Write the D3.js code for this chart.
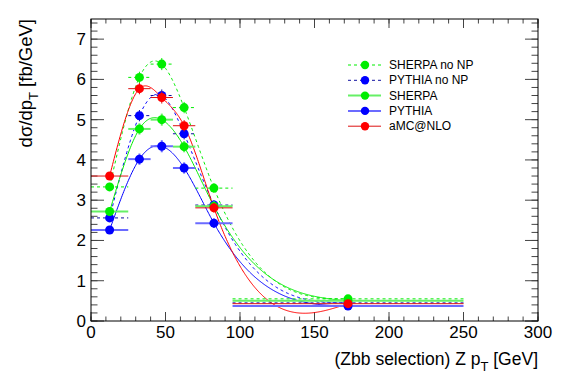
<!DOCTYPE html>
<html>
<head>
<meta charset="utf-8">
<script src="https://cdn.jsdelivr.net/npm/d3@7"></script>
<style>
body { margin: 0; background: #fff; }
text { font-family: "Liberation Sans", Arial, sans-serif; }
</style>
</head>
<body>
<div class="chart"></div>
<script>
// bin edges and centres (Z pT, GeV)
const binLo = [0, 25, 40, 55, 70, 95]
const binHi = [25, 40, 55, 70, 95, 250]
const binMid = [12.5, 32.5, 47.5, 62.5, 82.5, 172.5]

const sherpaNoNP = [3.33, 6.05, 6.38, 5.30, 3.30, 0.55]
const pythiaNoNP = [2.56, 5.10, 5.60, 4.65, 2.88, 0.45]
const sherpa = [2.72, 4.77, 5.00, 4.33, 2.85, 0.50]
const pythia = [2.26, 4.02, 4.34, 3.80, 2.43, 0.37]
const amcnlo = [3.60, 5.77, 5.55, 4.85, 2.81, 0.43]
const errs = [0.10, 0.14, 0.15, 0.14, 0.12, 0.04]

const xTicks = [0, 50, 100, 150, 200, 250, 300]
const yTicks = [0, 1, 2, 3, 4, 5, 6, 7]

const series = [
  {name: "SHERPA no NP", vals: sherpaNoNP, color: "#00ee00", bar: "#00ee00", dash: "3,3", bw: 1},
  {name: "PYTHIA no NP", vals: pythiaNoNP, color: "#0000ff", bar: "#1010a0", dash: "3,3", bw: 1},
  {name: "SHERPA", vals: sherpa, color: "#00ee00", bar: "#66f066", dash: null, bw: 2},
  {name: "PYTHIA", vals: pythia, color: "#0000ff", bar: "#6b6bff", dash: null, bw: 2},
  {name: "aMC@NLO", vals: amcnlo, color: "#ff0000", bar: "#dd1111", dash: null, bw: 1}
]

const W = 567, H = 384
const margin = {top: 19, right: 29, bottom: 63, left: 91}
const width = W - margin.left - margin.right
const height = H - margin.top - margin.bottom

const svg = d3.select(".chart").append("svg").attr("width", W).attr("height", H)
svg.append("rect").attr("width", W).attr("height", H).attr("fill", "#fff")
const g = svg.append("g").attr("transform", `translate(${margin.left},${margin.top})`)

const x = d3.scaleLinear().domain([0, 300]).range([0, width])
const y = d3.scaleLinear().domain([0, 7.5]).range([height, 0])

// natural cubic spline through the points (like ROOT TSpline3)
function spline(xs, ys) {
  const n = xs.length
  const h = d3.range(n - 1).map(i => xs[i + 1] - xs[i])
  const a = new Array(n).fill(0), b = new Array(n).fill(1), c = new Array(n).fill(0), r = new Array(n).fill(0)
  for (let i = 1; i < n - 1; i++) {
    a[i] = h[i - 1]; b[i] = 2 * (h[i - 1] + h[i]); c[i] = h[i]
    r[i] = 6 * ((ys[i + 1] - ys[i]) / h[i] - (ys[i] - ys[i - 1]) / h[i - 1])
  }
  const m = new Array(n).fill(0)
  const cp = [], rp = []
  cp[0] = 0; rp[0] = 0
  for (let i = 1; i < n; i++) {
    const den = b[i] - a[i] * cp[i - 1]
    cp[i] = c[i] / den
    rp[i] = (r[i] - a[i] * rp[i - 1]) / den
  }
  m[n - 1] = rp[n - 1]
  for (let i = n - 2; i >= 0; i--) m[i] = rp[i] - cp[i] * m[i + 1]
  return t => {
    let i = Math.min(n - 2, Math.max(0, d3.bisectRight(xs, t) - 1))
    const hi = h[i], A = (xs[i + 1] - t) / hi, B = (t - xs[i]) / hi
    return A * ys[i] + B * ys[i + 1] + ((A * A * A - A) * m[i] + (B * B * B - B) * m[i + 1]) * hi * hi / 6
  }
}

// frame ticks
const tickStroke = "#444"
const yMinor = d3.range(0, 7.51, 0.2)
const xMinor = d3.range(0, 301, 10)
g.selectAll(".ymin").data(yMinor).enter().append("line")
  .attr("x1", 0).attr("x2", 6.5).attr("y1", d => y(d)).attr("y2", d => y(d)).attr("stroke", tickStroke)
g.selectAll(".ymin2").data(yMinor).enter().append("line")
  .attr("x1", width).attr("x2", width - 6.5).attr("y1", d => y(d)).attr("y2", d => y(d)).attr("stroke", tickStroke)
g.selectAll(".ymaj").data(d3.range(0, 7.51, 1)).enter().append("line")
  .attr("x1", 0).attr("x2", 13).attr("y1", d => y(d)).attr("y2", d => y(d)).attr("stroke", tickStroke)
g.selectAll(".ymaj2").data(d3.range(0, 7.51, 1)).enter().append("line")
  .attr("x1", width).attr("x2", width - 13).attr("y1", d => y(d)).attr("y2", d => y(d)).attr("stroke", tickStroke)
g.selectAll(".xmin").data(xMinor).enter().append("line")
  .attr("y1", height).attr("y2", height - 4.5).attr("x1", d => x(d)).attr("x2", d => x(d)).attr("stroke", tickStroke)
g.selectAll(".xmin2").data(xMinor).enter().append("line")
  .attr("y1", 0).attr("y2", 4.5).attr("x1", d => x(d)).attr("x2", d => x(d)).attr("stroke", tickStroke)
g.selectAll(".xmaj").data(xTicks).enter().append("line")
  .attr("y1", height).attr("y2", height - 9).attr("x1", d => x(d)).attr("x2", d => x(d)).attr("stroke", tickStroke)
g.selectAll(".xmaj2").data(xTicks).enter().append("line")
  .attr("y1", 0).attr("y2", 9).attr("x1", d => x(d)).attr("x2", d => x(d)).attr("stroke", tickStroke)

// tick labels
g.selectAll(".ylab").data(yTicks).enter().append("text")
  .attr("x", -5).attr("y", d => y(d) + 6).attr("text-anchor", "end")
  .style("font-size", "17px").text(d => d)
g.selectAll(".xlab").data(xTicks).enter().append("text")
  .attr("x", d => x(d)).attr("y", height + 17).attr("text-anchor", "middle")
  .style("font-size", "17px").text(d => d)

// curves
const line = d3.line().x(d => x(d[0])).y(d => y(d[1]))
series.forEach(s => {
  const f = spline(binMid, s.vals)
  const pts = d3.range(binMid[0], binMid[binMid.length - 1] + 0.01, 0.5).map(t => [t, f(t)])
  g.append("path").datum(pts).attr("d", line).attr("fill", "none")
    .attr("stroke", s.color).attr("stroke-width", 1)
    .attr("stroke-dasharray", s.dash)
})

// error bars + markers
series.forEach(s => {
  const gg = g.append("g")
  gg.selectAll(".hbar").data(s.vals).enter().append("line")
    .attr("x1", (d, i) => x(binLo[i])).attr("x2", (d, i) => x(binHi[i]))
    .attr("y1", d => y(d)).attr("y2", d => y(d))
    .attr("stroke", s.bar).attr("stroke-width", s.bw).attr("stroke-dasharray", s.dash)
  gg.selectAll(".vbar").data(s.vals).enter().append("line")
    .attr("x1", (d, i) => x(binMid[i])).attr("x2", (d, i) => x(binMid[i]))
    .attr("y1", (d, i) => y(d - errs[i])).attr("y2", (d, i) => y(d + errs[i]))
    .attr("stroke", s.bar).attr("stroke-width", s.bw)
  gg.selectAll("circle").data(s.vals).enter().append("circle")
    .attr("cx", (d, i) => x(binMid[i])).attr("cy", d => y(d)).attr("r", 4.5)
    .attr("fill", s.color)
})

// frame
g.append("rect").attr("width", width).attr("height", height)
  .attr("fill", "none").attr("stroke", "#000").attr("stroke-width", 1)

// legend
const leg = g.append("g").attr("transform", `translate(${257},${46})`)
series.forEach((s, i) => {
  const row = leg.append("g").attr("transform", `translate(0,${i * 15.3})`)
  row.append("line").attr("x1", 0).attr("x2", 33).attr("stroke", s.bar)
    .attr("stroke-width", s.bw).attr("stroke-dasharray", s.dash)
  row.append("circle").attr("cx", 17).attr("r", 4.2).attr("fill", s.color)
  row.append("text").attr("x", 41).attr("y", 4).style("font-size", "12px").text(s.name)
})

// axis titles
const xt = svg.append("text").attr("x", 538).attr("y", 365).attr("text-anchor", "end").style("font-size", "17.5px")
xt.append("tspan").text("(Zbb selection) Z p")
xt.append("tspan").attr("dy", 6).style("font-size", "13px").text("T")
xt.append("tspan").attr("dy", -6).text(" [GeV]")

const yt = svg.append("text").attr("transform", "translate(32,19) rotate(-90)").attr("text-anchor", "end").style("font-size", "18.5px")
yt.append("tspan").text("dσ/dp")
yt.append("tspan").attr("dy", 6).style("font-size", "13px").text("T")
yt.append("tspan").attr("dy", -6).text(" [fb/GeV]")
</script>
</body>
</html>
